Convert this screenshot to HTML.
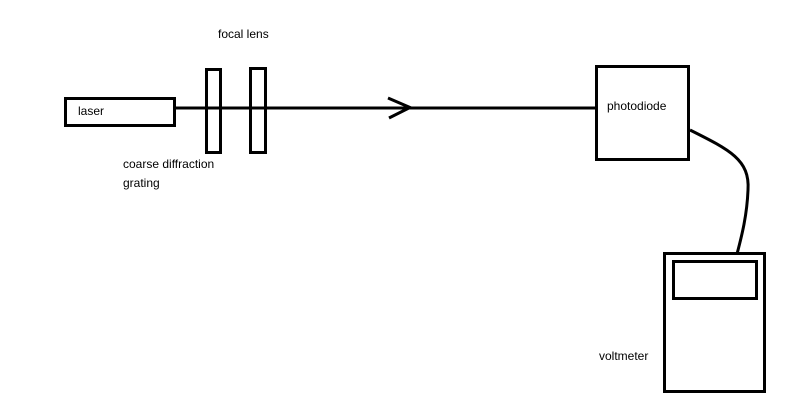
<!DOCTYPE html>
<html><head><style>
html,body{margin:0;padding:0;background:#fff;width:800px;height:409px;overflow:hidden}
svg text{font-family:"Liberation Sans",sans-serif;font-size:12px;fill:#000}
</style></head><body>
<svg width="800" height="409" viewBox="0 0 800 409" xmlns="http://www.w3.org/2000/svg">
<g fill="none" stroke="#000" stroke-width="3">
<rect x="65.5" y="98.5" width="109" height="27"/>
<line x1="175" y1="108" x2="596" y2="108"/>
<rect x="206.5" y="69.5" width="14" height="83"/>
<rect x="250.5" y="68.5" width="15" height="84"/>
<polyline points="388,98 410,107.5 389,118"/>
<rect x="596.5" y="66.5" width="92" height="93"/>
<path d="M690,130 C730,150 750,160 748,190 C747,215 742,235 737,254"/>
<rect x="664.5" y="253.5" width="100" height="138"/>
<rect x="673.5" y="261.5" width="83" height="37"/>
</g>
<text x="218" y="38">focal lens</text>
<text x="78" y="115">laser</text>
<text x="123" y="168">coarse diffraction</text>
<text x="123" y="187">grating</text>
<text x="607" y="110">photodiode</text>
<text x="599" y="360">voltmeter</text>
</svg>
</body></html>
